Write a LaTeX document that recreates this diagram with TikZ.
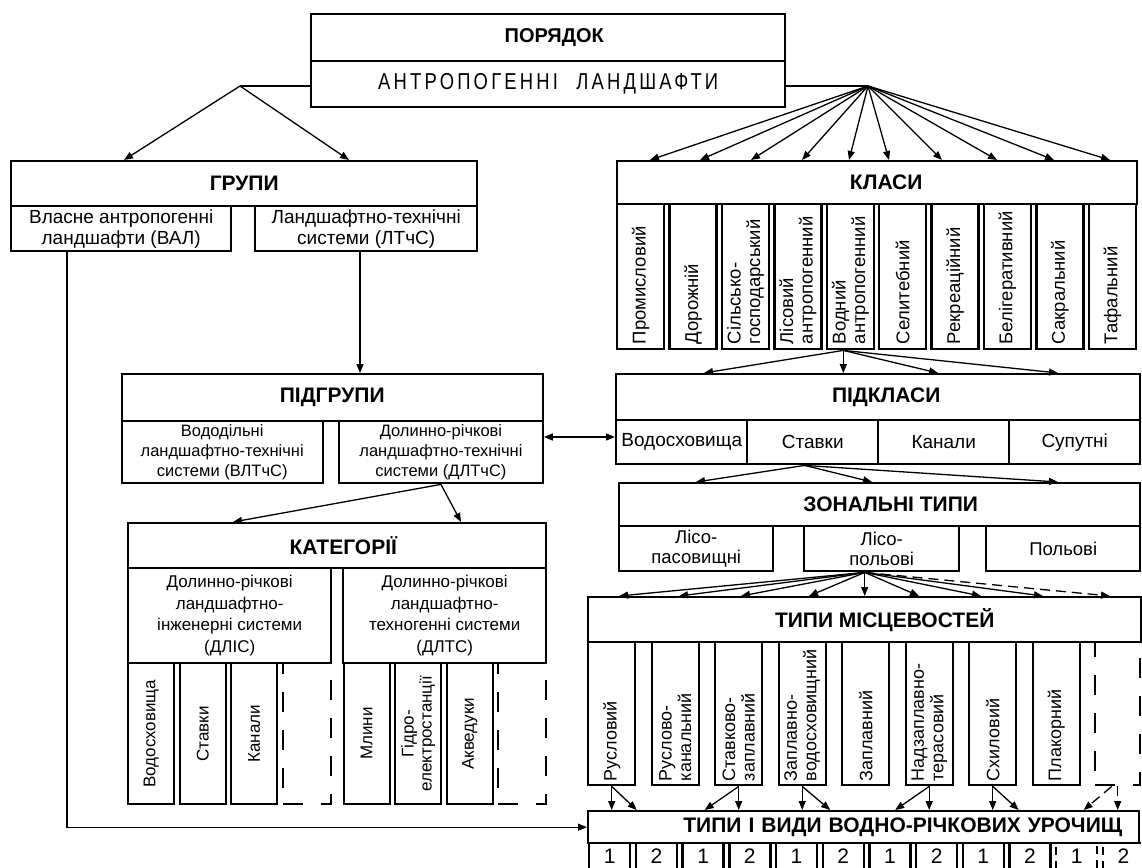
\documentclass[tikz,border=0pt]{standalone}
\usepackage{fontspec}
\setmainfont{Liberation Sans}
\newfontfamily\antrofont[FakeStretch=0.8,LetterSpace=14]{Liberation Sans}
\usetikzlibrary{arrows.meta,calc}
\hyphenpenalty=10000
\exhyphenpenalty=10000
\begin{document}
\begin{tikzpicture}[x=1pt,y=-1pt,
 box/.style={draw, line width=2.4pt, inner sep=1pt, anchor=north west, align=center, font=\fontsize{19}{21}\selectfont},
 ttl/.style={box, font=\fontsize{21}{24}\selectfont\bfseries},
 vcol/.style={box, rotate=90, anchor=north east, align=left, inner xsep=5pt, inner ysep=0pt, minimum height=47pt, font=\fontsize{18.5}{19.5}\selectfont},
 ccol/.style={box, rotate=90, anchor=north east, align=center, inner sep=0pt, minimum width=141pt, minimum height=46pt, font=\fontsize{17}{18}\selectfont},
 dcol/.style={draw, line width=2.4pt, dash pattern=on 20pt off 18pt, anchor=north west, inner sep=0pt},
 cell/.style={box, minimum width=41pt, minimum height=26pt, inner sep=0pt, font=\fontsize{21}{22}\selectfont},
 con/.style={line width=1.3pt},
 arr/.style={con, -{Triangle[length=9pt,width=7pt]}},
 darr/.style={con, {Triangle[length=9pt,width=7pt]}-{Triangle[length=9pt,width=7pt]}},
 dashcon/.style={arr, dash pattern=on 10pt off 6pt},
]
\fill[white] (0,0) rectangle (1142,867);
\clip (0,0) rectangle (1142,867);

% ---------------- ПОРЯДОК
\node[ttl, minimum width=474pt, minimum height=47pt, font=\fontsize{20}{24}\selectfont\bfseries] (por) at (310,13) {\hspace*{12pt}ПОРЯДОК};
\node[box, minimum width=474pt, minimum height=46pt] (antr) at (310,60) {\fontsize{23}{26}\antrofont АНТРОПОГЕННІ\hspace{10pt} ЛАНДШАФТИ};

% ---------------- ГРУПИ
\node[ttl, minimum width=466pt, minimum height=45pt] (gr) at (10,160) {ГРУПИ};
\node[box, minimum width=220pt, minimum height=45pt] (val) at (10,205) {Власне антропогенні\\ландшафти (ВАЛ)};
\node[box, minimum width=222pt, minimum height=45pt] (ltc) at (254,205) {Ландшафтно-технічні\\системи (ЛТчС)};

% ---------------- КЛАСИ
\node[ttl, minimum width=520pt, minimum height=43pt] (kl) at (616,160) {\hspace*{18pt}КЛАСИ};
\foreach \t [count=\n from 0] in {Промисловий, Дорожній, {Сільсько-\\господарський}, {Лісовий\\антропогенний}, {Водний\\антропогенний}, Селитебний, Рекреаційний, Белігеративний, Сакральний, Тафальний}
  \node[vcol, text width=135pt] (k\n) at ({616+52.4*\n},203) {\t};

% ---------------- ПІДГРУПИ
\node[ttl, minimum width=421pt, minimum height=47pt] (pgr) at (120.5,373) {ПІДГРУПИ};
\node[box, minimum width=201pt, minimum height=62pt, font=\fontsize{16.5}{20}\selectfont] (vlt) at (120.5,420) {Вододільні\\ландшафтно-технічні\\системи (ВЛТчС)};
\node[box, minimum width=203.5pt, minimum height=62pt, font=\fontsize{16.5}{20}\selectfont] (dlt) at (338,420) {Долинно-річкові\\ландшафтно-технічні\\системи (ДЛТчС)};

% ---------------- ПІДКЛАСИ
\node[ttl, minimum width=524pt, minimum height=46pt] (pkl) at (615,373) {\hspace*{16pt}ПІДКЛАСИ};
\foreach \t [count=\n from 0] in {Водосховища, Ставки, Канали, Супутні}
  \node[box, minimum width=131pt, minimum height=44pt] (p\n) at ({615+131*\n},419) {\t};

% ---------------- ЗОНАЛЬНІ ТИПИ
\node[ttl, minimum width=521pt, minimum height=43pt] (zt) at (618,482) {\hspace*{22pt}ЗОНАЛЬНІ ТИПИ};
\node[box, minimum width=154pt, minimum height=45pt, font=\fontsize{18.5}{20}\selectfont] (z0) at (618,525) {Лісо-\\пасовищні};
\node[box, minimum width=155pt, minimum height=45pt, font=\fontsize{18.5}{20}\selectfont] (z1) at (803,525) {Лісо-\\польові};
\node[box, minimum width=154pt, minimum height=45pt, font=\fontsize{18.5}{20}\selectfont] (z2) at (985,525) {Польові};

% ---------------- КАТЕГОРІЇ
\node[ttl, minimum width=418pt, minimum height=45pt] (kat) at (127,522) {\hspace*{12pt}КАТЕГОРІЇ};
\node[box, minimum width=203pt, minimum height=95pt, font=\fontsize{17}{21.5}\selectfont] (dlis) at (127,567) {Долинно-річкові\\ландшафтно-\\інженерні системи\\(ДЛІС)};
\node[box, minimum width=203pt, minimum height=95pt, font=\fontsize{17}{21.5}\selectfont] (dlts) at (342,567) {Долинно-річкові\\ландшафтно-\\техногенні системи\\(ДЛТС)};
\foreach \t [count=\n from 0] in {Водосховища, Ставки, Канали}
  \node[ccol] (ca\n) at ({127+51.5*\n},662) {\t};
\node[dcol, minimum width=48pt, minimum height=141pt] (ca3) at (281.5,662) {};
\foreach \t [count=\n from 0] in {Млини, {Гідро-\\електростанції}, Акведуки}
  \node[ccol] (cb\n) at ({342.5+51.5*\n},662) {\t};
\node[dcol, minimum width=48pt, minimum height=141pt] (cb3) at (497,662) {};

% ---------------- ТИПИ МІСЦЕВОСТЕЙ
\node[ttl, minimum width=553pt, minimum height=45pt] (tm) at (587,596) {\hspace*{40pt}ТИПИ МІСЦЕВОСТЕЙ};
\foreach \t [count=\n from 0] in {Русловий, {Руслово-\\канальний}, {Ставково-\\заплавний}, {Заплавно-\\водосховищний}, Заплавний, {Надзаплавно-\\терасовий}, Схиловий, Плакорний}
  \node[vcol, text width=135pt, inner xsep=4pt, font=\fontsize{18}{19.5}\selectfont] (t\n) at ({587+63.5*\n},641) {\t};
\node[dcol, minimum width=45pt, minimum height=143pt] (t8) at (1094,641) {};

% ---------------- ТИПИ І ВИДИ
\node[ttl, text width=517pt, inner xsep=17pt, minimum height=32pt, align=right] (vydy) at (587,810) {ТИПИ І ВИДИ ВОДНО-РІЧКОВИХ УРОЧИЩ};
\foreach \n in {0,...,9}{
  \pgfmathtruncatemacro\lab{mod(\n,2)+1}
  \node[cell] (c\n) at ({588+46.7*\n},842) {\lab};
}
\node[cell, dash pattern=on 8pt off 6pt] (c10) at ({588+46.7*10},842) {1};
\node[cell, dash pattern=on 8pt off 6pt] (c11) at ({588+46.7*11},842) {2};

% ---------------- connectors
\coordinate (fl) at (240,86);
\draw[con] (antr.west |- fl) -- (fl);
\draw[arr] (fl) -- (124,0 |- gr.north);
\draw[arr] (fl) -- (349,0 |- gr.north);

\coordinate (fr) at (868,86);
\draw[con] (antr.east |- fr) -- (fr);
\foreach \x in {650,700,751,802,849,889,942,997,1054,1110}
  \draw[arr] (fr) -- (\x,0 |- kl.north);

\draw[arr] (360,0 |- ltc.south) -- (360,0 |- pgr.north);
\draw[arr] (67,0 |- val.south) |- (vydy.west);
\draw[darr] (dlt.east |- 0,437) -- (p0.west |- 0,437);

\coordinate (ko) at ($(k4.west)+(-7,0)$);
\draw[arr] (ko) -- (ko |- pkl.north);
\foreach \x in {704,938,1058}
  \draw[arr] (ko) -- (\x,0 |- pkl.north);

\coordinate (so) at ($(p1.south)+(-8,0)$);
\foreach \x in {696,872,1058}
  \draw[arr] (so) -- (\x,0 |- zt.north);

\draw[arr] (dlt.south) -- (233,0 |- kat.north);
\draw[arr] (dlt.south) -- (461,0 |- kat.north);

\coordinate (lo) at ($(z1.south)+(-17,0)$);
\draw[arr] (lo) -- (lo |- tm.north);
\foreach \x in {619,679,741,809,919,981,1043}
  \draw[arr] (lo) -- (\x,0 |- tm.north);
\draw[dashcon] (lo) -- (1110,0 |- tm.north);

% columns to ТИПИ І ВИДИ
\draw[arr] (t0.west) -- (t0.west |- vydy.north);
\draw[arr] (t0.west) -- ($(t0.west |- vydy.north)+(25,0)$);
\draw[arr] (t2.west) -- (t2.west |- vydy.north);
\draw[arr] (t2.west) -- ($(t2.west |- vydy.north)+(-34,0)$);
\draw[arr] (t3.west) -- (t3.west |- vydy.north);
\draw[arr] (t3.west) -- ($(t3.west |- vydy.north)+(28,0)$);
\draw[arr] (t5.west) -- (t5.west |- vydy.north);
\draw[arr] (t5.west) -- ($(t5.west |- vydy.north)+(-34,0)$);
\draw[arr] (t6.west) -- (t6.west |- vydy.north);
\draw[arr] (t6.west) -- ($(t6.west |- vydy.north)+(26,0)$);
\draw[dashcon] (t8.south) -- (t8.south |- vydy.north);
\draw[dashcon] ($(t8.south)+(-6,0)$) -- ($(t8.south |- vydy.north)+(-34,0)$);
\end{tikzpicture}
\end{document}
